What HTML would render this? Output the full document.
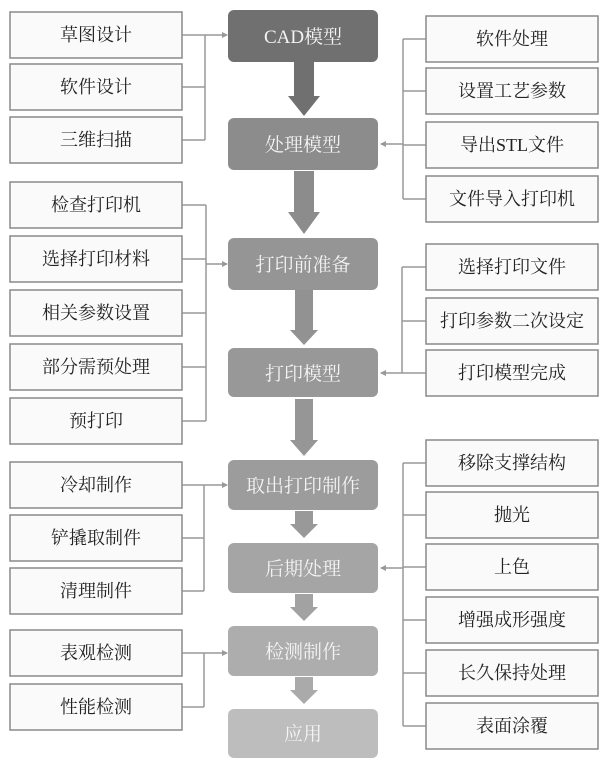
<!DOCTYPE html>
<html><head><meta charset="utf-8"><style>
html,body{margin:0;padding:0;background:#fff;}
svg text{font-family:"Liberation Serif","Noto Serif CJK SC","Noto Sans CJK SC",serif;}
</style></head><body>
<svg width="607" height="768" viewBox="0 0 607 768" xmlns="http://www.w3.org/2000/svg">
<defs>
<marker id="a" markerWidth="6" markerHeight="6" refX="5" refY="3" orient="auto" markerUnits="userSpaceOnUse"><path d="M0,0 L6,3 L0,6 z" fill="#999"/></marker>
</defs>
<g stroke="#999" stroke-width="1.5" fill="none">
<!-- left group 1 -->
<path d="M182,35 H205 M182,87 H205 M182,140 H205 M205,35 V140"/>
<path d="M205,35 H227" marker-end="url(#a)"/>
<!-- left group 2 -->
<path d="M182,205 H206 M182,259 H206 M182,313 H206 M182,367 H206 M182,421 H206 M206,205 V421"/>
<path d="M206,264 H227" marker-end="url(#a)"/>
<!-- left group 3 -->
<path d="M182,485 H204 M182,538 H204 M182,591 H204 M204,485 V591"/>
<path d="M204,485 H227" marker-end="url(#a)"/>
<!-- left group 4 -->
<path d="M182,653 H204 M182,707 H204 M204,653 V707"/>
<path d="M204,653 H227" marker-end="url(#a)"/>
<!-- right group 1 -->
<path d="M426,39 H403 M426,91 H403 M426,145 H403 M426,199 H403 M403,39 V199"/>
<path d="M403,144 H381" marker-end="url(#a)"/>
<!-- right group 2 -->
<path d="M426,267 H402 M426,321 H402 M426,373 H402 M402,267 V373"/>
<path d="M402,373 H381" marker-end="url(#a)"/>
<!-- right group 3 -->
<path d="M426,463 H403 M426,515 H403 M426,567 H403 M426,620 H403 M426,673 H403 M426,726 H403 M403,463 V726"/>
<path d="M403,568 H381" marker-end="url(#a)"/>
</g>
<!-- side boxes -->
<g fill="#fafafa" stroke="#8a8a8a" stroke-width="1.5">
<rect x="10" y="12" width="172" height="46"/>
<rect x="10" y="64" width="172" height="46"/>
<rect x="10" y="117" width="172" height="46"/>
<rect x="10" y="182" width="172" height="46"/>
<rect x="10" y="236" width="172" height="46"/>
<rect x="10" y="290" width="172" height="46"/>
<rect x="10" y="344" width="172" height="46"/>
<rect x="10" y="398" width="172" height="46"/>
<rect x="10" y="462" width="172" height="46"/>
<rect x="10" y="515" width="172" height="46"/>
<rect x="10" y="568" width="172" height="46"/>
<rect x="10" y="630" width="172" height="46"/>
<rect x="10" y="684" width="172" height="46"/>
<rect x="426" y="16" width="172" height="46"/>
<rect x="426" y="68" width="172" height="46"/>
<rect x="426" y="122" width="172" height="46"/>
<rect x="426" y="176" width="172" height="46"/>
<rect x="426" y="244" width="172" height="46"/>
<rect x="426" y="298" width="172" height="46"/>
<rect x="426" y="350" width="172" height="46"/>
<rect x="426" y="440" width="172" height="46"/>
<rect x="426" y="492" width="172" height="46"/>
<rect x="426" y="544" width="172" height="46"/>
<rect x="426" y="597" width="172" height="46"/>
<rect x="426" y="650" width="172" height="46"/>
<rect x="426" y="703" width="172" height="46"/>
</g>
<g font-size="18" fill="#222" text-anchor="middle">
<text x="96" y="41">草图设计</text>
<text x="96" y="93">软件设计</text>
<text x="96" y="146">三维扫描</text>
<text x="96" y="211">检查打印机</text>
<text x="96" y="265">选择打印材料</text>
<text x="96" y="319">相关参数设置</text>
<text x="96" y="373">部分需预处理</text>
<text x="96" y="427">预打印</text>
<text x="96" y="491">冷却制作</text>
<text x="96" y="544">铲撬取制件</text>
<text x="96" y="597">清理制件</text>
<text x="96" y="659">表观检测</text>
<text x="96" y="713">性能检测</text>
<text x="512" y="45">软件处理</text>
<text x="512" y="97">设置工艺参数</text>
<text x="512" y="151">导出STL文件</text>
<text x="512" y="205">文件导入打印机</text>
<text x="512" y="273">选择打印文件</text>
<text x="512" y="327">打印参数二次设定</text>
<text x="512" y="379">打印模型完成</text>
<text x="512" y="469">移除支撑结构</text>
<text x="512" y="521">抛光</text>
<text x="512" y="573">上色</text>
<text x="512" y="626">增强成形强度</text>
<text x="512" y="679">长久保持处理</text>
<text x="512" y="732">表面涂覆</text>
</g>
<!-- big arrows -->
<g>
<path d="M294,62 H314 V96 H320 L304,116 L288,96 H294 Z" fill="#707070"/>
<path d="M294,171 H314 V212 H320 L304,234 L288,212 H294 Z" fill="#8c8c8c"/>
<path d="M295,290 H313 V330 H318 L304,345 L290,330 H295 Z" fill="#929292"/>
<path d="M295,399 H313 V440 H318 L304,456 L290,440 H295 Z" fill="#969696"/>
<path d="M295,511 H313 V524 H318 L304,538 L290,524 H295 Z" fill="#999"/>
<path d="M295,594 H313 V607 H318 L304,621 L290,607 H295 Z" fill="#a2a2a2"/>
<path d="M295,677 H313 V690 H318 L304,704 L290,690 H295 Z" fill="#aaa"/>
</g>
<!-- center boxes -->
<g>
<rect x="228" y="10" width="150" height="52" rx="6" fill="#707070"/>
<rect x="228" y="118" width="150" height="52" rx="6" fill="#8c8c8c"/>
<rect x="228" y="238" width="150" height="52" rx="6" fill="#959595"/>
<rect x="228" y="348" width="150" height="49" rx="6" fill="#989898"/>
<rect x="228" y="460" width="150" height="50" rx="6" fill="#9c9c9c"/>
<rect x="228" y="543" width="150" height="50" rx="6" fill="#a5a5a5"/>
<rect x="228" y="626" width="150" height="50" rx="6" fill="#adadad"/>
<rect x="228" y="709" width="150" height="49" rx="6" fill="#bdbdbd"/>
</g>
<g font-size="19" fill="#f4f4f4" text-anchor="middle">
<text x="303" y="43">CAD模型</text>
<text x="303" y="151">处理模型</text>
<text x="303" y="271">打印前准备</text>
<text x="303" y="380">打印模型</text>
<text x="303" y="492">取出打印制作</text>
<text x="303" y="575">后期处理</text>
<text x="303" y="658">检测制作</text>
<text x="303" y="740">应用</text>
</g>
</svg>
</body></html>
